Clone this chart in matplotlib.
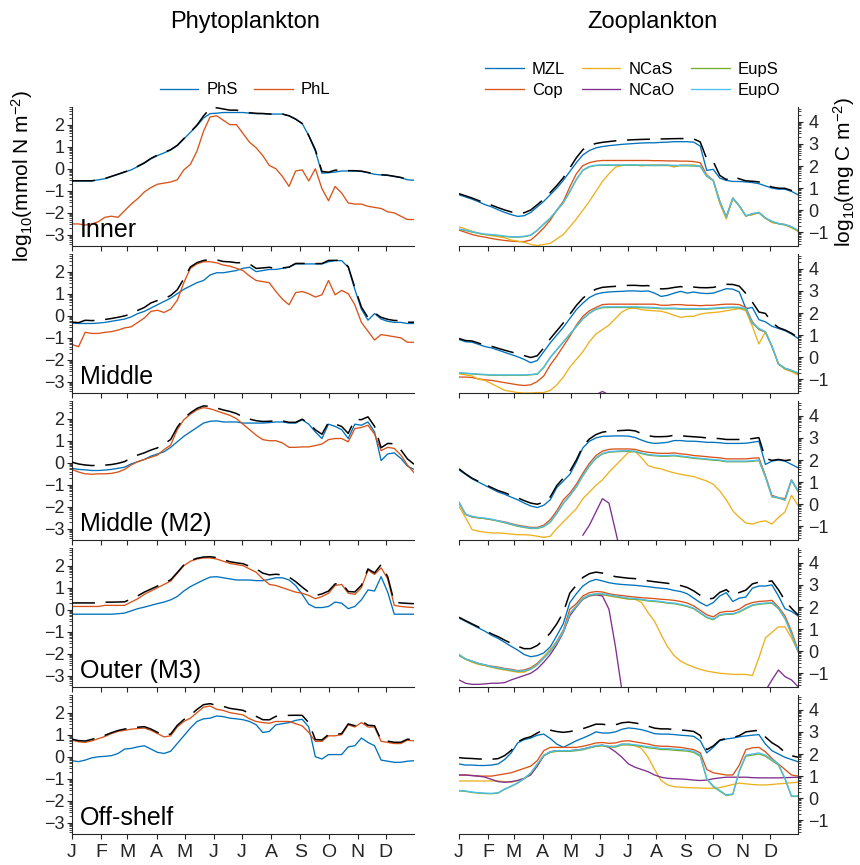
import numpy as np
import matplotlib
matplotlib.use("Agg")
import matplotlib.pyplot as plt
from matplotlib.ticker import FixedLocator

plt.rcParams['font.family'] = ['Liberation Sans', 'DejaVu Sans']
plt.rcParams['mathtext.fontset'] = 'custom'
plt.rcParams['mathtext.rm'] = 'Liberation Sans'
plt.rcParams['mathtext.it'] = 'Liberation Sans'
plt.rcParams['mathtext.default'] = 'regular'

nan = np.nan
# weekly sample days (day of year)
days = list(range(1, 366, 7))
month_days = [1, 32, 60, 91, 121, 152, 182, 213, 244, 274, 305, 335]
month_labels = ['J', 'F', 'M', 'A', 'M', 'J', 'J', 'A', 'S', 'O', 'N', 'D']
regions = ['Inner', 'Middle', 'Middle (M2)', 'Outer (M3)', 'Off-shelf']

# ---------------- Phytoplankton (log10 mmol N m-2) ----------------
phs_inner = [-0.55, -0.55, -0.55, -0.55, -0.5, -0.45, -0.35, -0.25, -0.15, -0.05,
             0.1, 0.25, 0.45, 0.6, 0.72, 0.85, 1.05, 1.35, 1.65, 1.95,
             2.3, 2.5, 2.52, 2.55, 2.55, 2.55, 2.55, 2.52, 2.5, 2.5,
             2.48, 2.48, 2.48, 2.4, 2.25, 2.05, 1.5, 0.8, -0.2, -0.18,
             -0.15, -0.1, -0.1, -0.1, -0.12, -0.18, -0.25, -0.28, -0.3, -0.35,
             -0.4, -0.5, -0.52]
phl_inner = [-2.5, -2.5, -2.55, -2.5, -2.4, -2.2, -2.15, -2.2, -1.9, -1.6,
             -1.35, -1.05, -0.85, -0.7, -0.65, -0.6, -0.5, -0.05, 0.2, 0.8,
             1.7, 2.35, 2.4, 2.2, 2.0, 2.0, 1.6, 1.2, 0.95, 0.6,
             0.15, 0.0, -0.35, -0.8, -0.1, -0.05, -0.55, 0.0, -0.9, -1.45,
             -0.8, -1.1, -1.55, -1.6, -1.6, -1.7, -1.75, -1.8, -1.95, -2.0,
             -2.15, -2.3, -2.3]
phs_middle = [-0.33, -0.35, -0.35, -0.35, -0.33, -0.3, -0.25, -0.2, -0.15, -0.05,
              0.1, 0.2, 0.35, 0.5, 0.65, 0.8, 1.0, 1.2, 1.35, 1.5,
              1.6, 1.85, 1.95, 1.95, 2.0, 2.05, 2.15, 2.2, 2.0, 2.05,
              2.1, 2.1, 2.15, 2.2, 2.35, 2.35, 2.35, 2.35, 2.35, 2.45,
              2.5, 2.5, 2.2, 1.2, 0.3, -0.2, 0.1, -0.15, -0.25, -0.3,
              -0.3, -0.35, -0.35]
phl_middle = [-1.3, -1.4, -0.75, -0.8, -0.8, -0.75, -0.72, -0.65, -0.55, -0.5,
              -0.3, -0.1, 0.2, 0.25, 0.15, 0.3, 0.7, 1.5, 2.15, 2.35,
              2.45, 2.45, 2.4, 2.3, 2.25, 2.15, 2.05, 1.8, 1.6, 1.55,
              1.5, 1.1, 0.75, 0.5, 1.05, 1.1, 1.0, 0.85, 0.95, 1.6,
              0.95, 1.15, 1.0, 0.5, -0.3, -0.7, -1.1, -0.85, -0.9, -0.95,
              -1.0, -1.2, -1.2]
phs_m2 = [-0.25, -0.3, -0.32, -0.35, -0.35, -0.33, -0.3, -0.25, -0.2, -0.05,
          0.05, 0.15, 0.3, 0.4, 0.5, 0.7, 0.95, 1.2, 1.4, 1.6,
          1.8, 1.88, 1.9, 1.85, 1.85, 1.85, 1.8, 1.8, 1.8, 1.8,
          1.82, 1.85, 1.85, 1.8, 1.8, 1.95, 1.75, 1.4, 1.1, 1.75,
          1.65, 1.5, 1.1, 1.75, 1.7, 1.85, 1.4, 0.1, 0.4, 0.45,
          0.2, -0.15, -0.3]
phl_m2 = [-0.3, -0.42, -0.5, -0.52, -0.5, -0.5, -0.48, -0.42, -0.3, -0.1,
          0.05, 0.15, 0.25, 0.35, 0.6, 0.8, 1.5, 1.95, 2.2, 2.4,
          2.5, 2.45, 2.35, 2.25, 2.15, 2.0, 1.75, 1.5, 1.25, 1.05,
          1.0, 1.0, 0.9, 0.7, 0.7, 0.72, 0.72, 0.78, 0.85, 1.05,
          1.1, 1.1, 0.95, 1.55, 1.6, 1.7, 1.3, 0.55, 0.7, 0.65,
          0.35, -0.1, -0.45]
phs_m3 = [-0.2, -0.2, -0.2, -0.2, -0.2, -0.2, -0.2, -0.18, -0.15, -0.05,
          0.05, 0.12, 0.2, 0.28, 0.35, 0.45, 0.6, 0.85, 1.05, 1.2,
          1.35, 1.48, 1.5, 1.45, 1.4, 1.35, 1.35, 1.35, 1.32, 1.32,
          1.38, 1.45, 1.45, 1.35, 1.1, 0.7, 0.25, 0.1, 0.1, 0.15,
          0.35, 0.3, 0.05, 0.15, 0.45, 0.9, 0.85, 1.5, 0.8, -0.2,
          -0.2, -0.2, -0.2]
phl_m3 = [0.15, 0.15, 0.15, 0.15, 0.15, 0.2, 0.2, 0.2, 0.2, 0.35,
          0.5, 0.7, 0.85, 1.0, 1.15, 1.3, 1.65, 2.0, 2.2, 2.3,
          2.35, 2.35, 2.3, 2.2, 2.1, 2.05, 2.0, 1.85, 1.7, 1.4,
          1.15, 1.1, 1.0, 0.9, 0.8, 0.75, 0.65, 0.5, 0.6, 0.75,
          1.1, 1.15, 0.75, 0.7, 1.0, 1.8, 1.6, 1.9, 1.4, 0.2,
          0.15, 0.12, 0.1]
phs_off = [-0.18, -0.22, -0.15, -0.05, 0.0, 0.02, 0.05, 0.15, 0.35, 0.38,
           0.45, 0.5, 0.35, 0.2, 0.15, 0.25, 0.6, 0.95, 1.3, 1.6,
           1.72, 1.75, 1.85, 1.82, 1.75, 1.72, 1.68, 1.6, 1.45, 1.1,
           1.15, 1.45, 1.5, 1.55, 1.65, 1.7, 1.35, 0.0, -0.1, 0.1,
           0.1, 0.1, 0.45, 0.5, 0.85, 0.65, 0.5, -0.15, -0.2, -0.25,
           -0.25, -0.2, -0.18]
phl_off = [0.75, 0.68, 0.65, 0.72, 0.82, 0.92, 1.05, 1.15, 1.2, 1.25,
           1.28, 1.3, 1.2, 1.05, 0.9, 0.95, 1.35, 1.6, 1.75, 2.0,
           2.25, 2.3, 2.15, 2.1, 2.0, 1.95, 1.9, 1.72, 1.6, 1.55,
           1.52, 1.6, 1.6, 1.6, 1.5, 1.4, 1.1, 0.7, 0.7, 0.95,
           0.95, 1.0, 1.45, 1.35, 1.55, 1.35, 1.35, 0.7, 0.65, 0.6,
           0.6, 0.75, 0.72]

# ---------------- Zooplankton (log10 mg C m-2) ----------------
mzl_inner = [0.7, 0.6, 0.5, 0.38, 0.25, 0.15, 0.02, -0.1, -0.2, -0.28,
             -0.25, -0.1, 0.15, 0.4, 0.7, 1.0, 1.35, 1.75, 2.15, 2.5,
             2.7, 2.82, 2.88, 2.92, 2.95, 2.98, 3.0, 3.02, 3.04, 3.05,
             3.05, 3.07, 3.08, 3.1, 3.1, 3.1, 3.08, 2.9, 1.8, 1.85,
             1.45, 1.35, 1.3, 1.3, 1.28, 1.25, 1.2, 1.1, 1.0, 0.95,
             0.95, 0.85, 0.7]
cop_inner = [-0.9, -1.0, -1.1, -1.17, -1.22, -1.28, -1.33, -1.37, -1.4, -1.42,
             -1.42, -1.35, -1.1, -0.8, -0.45, 0.0, 0.4, 1.05, 1.65, 2.02,
             2.15, 2.22, 2.25, 2.25, 2.25, 2.25, 2.25, 2.25, 2.25, 2.25,
             2.24, 2.24, 2.23, 2.23, 2.22, 2.22, 2.2, 2.15, 1.6, 1.35,
             0.4, -0.3, 0.55, 0.2, -0.25, -0.2, -0.1, -0.35, -0.55, -0.6,
             -0.65, -0.75, -0.95]
ncas_inner = [-0.75, -0.85, -0.95, -1.05, -1.1, -1.15, -1.2, -1.25, -1.35, -1.4,
              -1.45, -1.55, -1.6, -1.55, -1.5, -1.3, -1.1, -0.75, -0.4, 0.0,
              0.4, 0.85, 1.3, 1.65, 1.95, 2.02, 2.05, 2.05, 2.0, 2.05,
              2.05, 2.05, 2.05, 1.95, 2.05, 2.05, 2.05, 2.0, 1.55, 1.35,
              0.3, -0.4, 0.55, 0.2, -0.25, -0.2, -0.1, -0.35, -0.55, -0.6,
              -0.65, -0.8, -0.95]
ncao_inner = [nan] * 53
eups_inner = [-0.87, -0.92, -0.99, -1.05, -1.1, -1.12, -1.15, -1.19, -1.22, -1.22,
              -1.2, -1.14, -0.92, -0.64, -0.37, -0.02, 0.33, 0.83, 1.38, 1.8,
              1.96, 2.02, 2.03, 2.03, 2.03, 2.03, 2.03, 2.03, 2.03, 2.02,
              2.02, 2.02, 2.02, 2.01, 2.01, 2.01, 2.0, 1.98, 1.53, 1.33,
              0.38, -0.32, 0.53, 0.18, -0.27, -0.17, -0.12, -0.37, -0.52, -0.62,
              -0.67, -0.77, -0.92]
eupo_inner = [-0.85, -0.9, -0.97, -1.03, -1.08, -1.1, -1.13, -1.17, -1.2, -1.2,
              -1.18, -1.12, -0.9, -0.62, -0.35, 0.0, 0.35, 0.85, 1.4, 1.82,
              1.98, 2.04, 2.05, 2.05, 2.05, 2.05, 2.05, 2.05, 2.05, 2.04,
              2.04, 2.04, 2.04, 2.03, 2.03, 2.03, 2.02, 2.0, 1.55, 1.35,
              0.4, -0.3, 0.55, 0.2, -0.25, -0.15, -0.1, -0.35, -0.5, -0.6,
              -0.65, -0.75, -0.9]

mzl_middle = [0.8, 0.7, 0.68, 0.58, 0.48, 0.42, 0.32, 0.22, 0.12, 0.02,
              -0.1, -0.25, -0.15, 0.25, 0.65, 1.0, 1.35, 1.75, 2.15, 2.45,
              2.7, 2.85, 2.92, 2.95, 2.97, 2.98, 3.0, 3.0, 2.98, 3.0,
              2.9, 2.75, 2.8, 2.9, 2.98, 2.9, 2.95, 2.9, 2.88, 2.9,
              3.0, 3.1, 3.08, 2.95, 2.2, 2.25, 1.7, 1.6, 1.4, 1.3,
              1.2, 1.05, 0.85]
cop_middle = [-0.9, -0.9, -0.92, -0.98, -1.02, -1.05, -1.1, -1.15, -1.2, -1.25,
              -1.28, -1.25, -1.1, -0.85, -0.35, 0.05, 0.5, 0.95, 1.45, 1.85,
              2.1, 2.25, 2.38, 2.4, 2.4, 2.4, 2.4, 2.4, 2.4, 2.4,
              2.4, 2.35, 2.35, 2.38, 2.38, 2.35, 2.35, 2.33, 2.35, 2.35,
              2.38, 2.4, 2.4, 2.38, 2.25, 1.6, 1.25, 1.15, 0.5, -0.3,
              -0.5, -0.6, -0.75]
ncas_middle = [-0.75, -0.8, -0.85, -1.0, -1.05, -1.2, -1.35, -1.5, -1.55, -1.6,
               -1.62, -1.62, -1.6, -1.6, -1.5, -1.25, -0.9, -0.45, -0.1, 0.25,
               0.7, 1.05, 1.25, 1.45, 1.75, 2.05, 2.2, 2.22, 2.15, 2.12,
               2.1, 2.08, 2.0, 1.9, 1.8, 1.85, 1.85, 1.95, 2.0, 2.02,
               2.05, 2.1, 2.15, 2.2, 2.1, 1.4, 0.6, 1.15, 0.5, -0.3,
               -0.55, -0.65, -0.8]
ncao_middle = [nan, nan, nan, nan, nan, nan, nan, nan, nan, nan,
               nan, nan, nan, nan, nan, nan, nan, nan, nan, nan,
               -2.0, -1.7, -1.55, -1.7, -2.0, nan, nan, nan, nan, nan,
               nan, nan, nan, nan, nan, nan, nan, nan, nan, nan,
               nan, nan, nan, nan, nan, nan, nan, nan, nan, nan,
               nan, nan, nan]
eups_middle = [-0.72, -0.74, -0.76, -0.78, -0.8, -0.82, -0.82, -0.82, -0.82, -0.82,
               -0.82, -0.8, -0.77, -0.47, -0.02, 0.33, 0.68, 1.03, 1.38, 1.73,
               1.98, 2.16, 2.24, 2.25, 2.25, 2.25, 2.25, 2.25, 2.24, 2.23,
               2.22, 2.19, 2.19, 2.19, 2.17, 2.17, 2.17, 2.17, 2.17, 2.19,
               2.21, 2.23, 2.24, 2.23, 2.17, 1.53, 1.28, 1.13, 0.48, -0.32,
               -0.52, -0.62, -0.72]
eupo_middle = [-0.7, -0.72, -0.74, -0.76, -0.78, -0.8, -0.8, -0.8, -0.8, -0.8,
               -0.8, -0.78, -0.75, -0.45, 0.0, 0.35, 0.7, 1.05, 1.4, 1.75,
               2.0, 2.18, 2.27, 2.28, 2.28, 2.28, 2.28, 2.28, 2.27, 2.26,
               2.25, 2.22, 2.22, 2.22, 2.2, 2.2, 2.2, 2.2, 2.2, 2.22,
               2.24, 2.26, 2.27, 2.26, 2.2, 1.55, 1.3, 1.15, 0.5, -0.3,
               -0.5, -0.6, -0.7]

mzl_m2 = [1.55, 1.35, 1.15, 1.0, 0.85, 0.7, 0.55, 0.45, 0.32, 0.2,
          0.05, -0.08, -0.15, -0.05, 0.2, 0.75, 1.05, 1.35, 1.9, 2.55,
          2.85, 3.0, 3.07, 3.08, 3.09, 3.09, 3.08, 3.02, 2.9, 2.8,
          2.75, 2.77, 2.8, 2.88, 2.88, 2.85, 2.85, 2.83, 2.8, 2.8,
          2.78, 2.75, 2.75, 2.75, 2.76, 2.8, 2.85, 1.8, 1.95, 2.0,
          1.95, 1.8, 1.65]
cop_m2 = [0.05, -0.45, -0.58, -0.62, -0.65, -0.7, -0.75, -0.8, -0.88, -0.95,
          -1.0, -1.05, -1.05, -0.95, -0.7, -0.3, 0.2, 0.5, 0.9, 1.4,
          1.85, 2.2, 2.4, 2.48, 2.5, 2.5, 2.5, 2.48, 2.4, 2.35,
          2.32, 2.3, 2.3, 2.32, 2.28, 2.25, 2.2, 2.18, 2.15, 2.12,
          2.1, 2.05, 2.05, 2.05, 2.05, 2.08, 2.1, 1.3, 0.4, 0.3,
          0.25, 1.1, 0.6]
ncas_m2 = [-0.1, -0.6, -1.15, -1.22, -1.27, -1.3, -1.3, -1.32, -1.35, -1.38,
           -1.38, -1.4, -1.45, -1.5, -1.45, -1.1, -0.8, -0.5, -0.2, 0.25,
           0.55, 0.85, 1.1, 1.45, 1.75, 2.05, 2.35, 2.4, 2.1, 1.75,
           1.65, 1.6, 1.5, 1.42, 1.35, 1.3, 1.25, 1.15, 1.05, 0.9,
           0.6, 0.2, -0.3, -0.6, -0.85, -0.9, -0.8, -0.75, -0.9, -0.6,
           -0.35, 0.4, -0.05]
ncao_m2 = [nan, nan, nan, nan, nan, nan, nan, nan, nan, nan,
           nan, nan, nan, nan, nan, nan, nan, nan, nan, -1.4,
           -0.95, -0.35, 0.25, 0.05, -1.2, -2.5, nan, nan, nan, nan,
           nan, nan, nan, nan, nan, nan, nan, nan, nan, nan,
           nan, nan, nan, nan, nan, nan, nan, nan, nan, nan,
           nan, nan, nan]
eups_m2 = [0.08, -0.47, -0.57, -0.62, -0.65, -0.7, -0.77, -0.84, -0.92, -1.0,
           -1.05, -1.1, -1.1, -1.02, -0.82, -0.42, 0.03, 0.38, 0.78, 1.28,
           1.72, 2.07, 2.27, 2.35, 2.37, 2.39, 2.39, 2.37, 2.29, 2.22,
           2.19, 2.17, 2.17, 2.19, 2.15, 2.12, 2.07, 2.05, 2.02, 1.99,
           1.97, 1.92, 1.92, 1.92, 1.92, 1.94, 1.97, 1.23, 0.33, 0.28,
           0.18, 1.08, 0.58]
eupo_m2 = [0.1, -0.45, -0.55, -0.6, -0.63, -0.68, -0.75, -0.82, -0.9, -0.98,
           -1.03, -1.08, -1.08, -1.0, -0.8, -0.4, 0.05, 0.4, 0.8, 1.3,
           1.75, 2.1, 2.3, 2.38, 2.4, 2.42, 2.42, 2.4, 2.32, 2.25,
           2.22, 2.2, 2.2, 2.22, 2.18, 2.15, 2.1, 2.08, 2.05, 2.02,
           2.0, 1.95, 1.95, 1.95, 1.95, 1.97, 2.0, 1.25, 0.35, 0.3,
           0.2, 1.1, 0.6]

mzl_m3 = [1.5, 1.35, 1.2, 1.05, 0.9, 0.72, 0.58, 0.4, 0.22, 0.05,
          -0.15, -0.25, -0.2, -0.08, 0.2, 0.7, 1.25, 2.2, 2.6, 2.95,
          3.15, 3.25, 3.18, 3.1, 3.05, 3.02, 3.0, 2.98, 2.95, 2.92,
          2.88, 2.85, 2.82, 2.75, 2.7, 2.6, 2.4, 2.2, 2.05, 2.2,
          2.5, 2.65, 2.25, 2.4, 2.45, 2.85, 2.95, 2.95, 3.0, 2.5,
          1.92, 1.8, 1.6]
cop_m3 = [-0.2, -0.35, -0.45, -0.55, -0.62, -0.68, -0.72, -0.78, -0.82, -0.88,
          -0.85, -0.75, -0.55, -0.25, 0.05, 0.45, 0.95, 1.9, 2.15, 2.5,
          2.65, 2.7, 2.68, 2.6, 2.55, 2.52, 2.48, 2.45, 2.42, 2.4,
          2.38, 2.35, 2.33, 2.3, 2.25, 2.18, 2.05, 1.85, 1.65, 1.55,
          1.75, 1.8, 1.8, 1.9, 2.1, 2.2, 2.25, 2.27, 2.3, 2.0,
          1.6, 0.9, 0.05]
ncas_m3 = [-0.15, -0.35, -0.5, -0.6, -0.65, -0.72, -0.8, -0.85, -0.9, -0.95,
           -0.95, -0.8, -0.6, -0.25, 0.1, 0.4, 0.9, 1.7, 2.05, 2.4,
           2.55, 2.58, 2.55, 2.5, 2.45, 2.4, 2.35, 2.35, 2.2, 1.75,
           1.35, 0.75, 0.2, -0.2, -0.45, -0.6, -0.72, -0.82, -0.9, -0.95,
           -1.0, -1.02, -1.05, -1.05, -1.05, -1.1, -0.3, 0.6, 0.85, 1.1,
           1.1, 0.6, 0.0]
ncao_m3 = [-1.3, -1.45, -1.5, -1.5, -1.48, -1.45, -1.45, -1.42, -1.3, -1.2,
           -1.1, -1.0, -0.8, -0.5, -0.15, 0.3, 0.85, 1.6, 2.0, 2.35,
           2.5, 2.55, 2.5, 1.9, 0.2, -1.8, nan, nan, nan, nan,
           nan, nan, nan, nan, nan, nan, nan, nan, nan, nan,
           nan, nan, nan, nan, nan, nan, nan, -1.8, -1.3, -0.85,
           -1.15, -1.3, -1.6]
eups_m3 = [-0.17, -0.37, -0.47, -0.57, -0.64, -0.72, -0.77, -0.82, -0.87, -0.92,
           -0.9, -0.82, -0.62, -0.32, -0.02, 0.38, 0.88, 1.68, 2.03, 2.37,
           2.52, 2.57, 2.57, 2.52, 2.47, 2.42, 2.37, 2.35, 2.32, 2.27,
           2.25, 2.22, 2.17, 2.15, 2.09, 2.02, 1.92, 1.72, 1.52, 1.42,
           1.62, 1.67, 1.67, 1.77, 1.92, 2.07, 2.12, 2.15, 2.17, 1.92,
           1.47, 0.77, -0.02]
eupo_m3 = [-0.15, -0.35, -0.45, -0.55, -0.62, -0.7, -0.75, -0.8, -0.85, -0.9,
           -0.88, -0.8, -0.6, -0.3, 0.0, 0.4, 0.9, 1.7, 2.05, 2.4,
           2.55, 2.6, 2.6, 2.55, 2.5, 2.45, 2.4, 2.38, 2.35, 2.3,
           2.28, 2.25, 2.2, 2.18, 2.12, 2.05, 1.95, 1.75, 1.55, 1.45,
           1.65, 1.7, 1.7, 1.8, 1.95, 2.1, 2.15, 2.18, 2.2, 1.95,
           1.5, 0.8, 0.0]

mzl_off = [1.55, 1.5, 1.5, 1.48, 1.48, 1.5, 1.55, 1.75, 2.05, 2.5,
           2.65, 2.72, 2.85, 2.9, 2.7, 2.45, 2.3, 2.45, 2.6, 2.72,
           2.85, 3.0, 2.95, 2.95, 3.0, 3.12, 3.18, 3.15, 3.1, 3.02,
           2.92, 2.9, 2.9, 2.88, 2.85, 2.83, 2.8, 2.6, 2.05, 2.3,
           2.6, 2.68, 2.72, 2.78, 2.82, 2.85, 2.88, 2.45, 2.15, 2.0,
           1.85, 1.75, 1.65]
cop_off = [1.05, 1.05, 1.03, 1.0, 1.0, 1.0, 1.05, 1.1, 1.15, 1.25,
           1.35, 1.45, 1.7, 2.15, 2.3, 2.3, 2.3, 2.3, 2.3, 2.35,
           2.42, 2.5, 2.52, 2.48, 2.5, 2.58, 2.6, 2.55, 2.5, 2.45,
           2.38, 2.35, 2.35, 2.32, 2.3, 2.25, 2.2, 2.05, 1.3, 1.15,
           1.1, 1.05, 1.05, 1.5, 2.2, 2.28, 2.3, 2.1, 1.8, 1.55,
           1.3, 1.05, 1.0]
ncas_off = [0.78, 0.78, 0.78, 0.78, 0.78, 0.78, 0.78, 0.75, 0.72, 0.8,
            0.9, 1.1, 1.5, 1.92, 2.1, 2.15, 2.15, 2.15, 2.18, 2.22,
            2.3, 2.38, 2.4, 2.35, 2.35, 2.45, 2.45, 2.38, 2.25, 1.85,
            1.3, 0.8, 0.6, 0.52, 0.5, 0.48, 0.47, 0.46, 0.45, 0.45,
            0.48, 0.55, 0.62, 0.68, 0.65, 0.62, 0.6, 0.6, 0.62, 0.65,
            0.67, 0.7, 0.72]
ncao_off = [1.05, 1.05, 1.02, 1.0, 0.95, 0.85, 0.75, 0.72, 0.75, 0.8,
            0.9, 1.05, 1.45, 1.92, 2.1, 2.15, 2.15, 2.15, 2.18, 2.22,
            2.3, 2.35, 2.4, 2.3, 2.1, 1.85, 1.55, 1.4, 1.3, 1.2,
            1.05, 0.95, 0.9, 0.88, 0.87, 0.85, 0.82, 0.8, 0.82, 0.88,
            0.92, 0.95, 0.95, 0.95, 0.95, 0.93, 0.92, 0.92, 0.92, 0.92,
            0.93, 0.94, 0.95]
eups_off = [0.33, 0.31, 0.26, 0.23, 0.21, 0.2, 0.23, 0.4, 0.53, 0.68,
            0.88, 1.12, 1.52, 1.92, 2.07, 2.12, 2.12, 2.12, 2.15, 2.19,
            2.27, 2.35, 2.37, 2.32, 2.31, 2.41, 2.41, 2.38, 2.34, 2.28,
            2.25, 2.2, 2.2, 2.17, 2.15, 2.13, 2.07, 1.9, 0.87, 0.52,
            0.32, 0.12, 0.17, 1.22, 1.9, 1.95, 2.0, 1.9, 1.7, 1.5,
            0.87, 0.08, 0.08]
eupo_off = [0.35, 0.33, 0.28, 0.25, 0.23, 0.22, 0.25, 0.42, 0.55, 0.7,
            0.9, 1.15, 1.55, 1.95, 2.1, 2.15, 2.15, 2.15, 2.18, 2.22,
            2.3, 2.38, 2.4, 2.35, 2.35, 2.45, 2.45, 2.42, 2.38, 2.33,
            2.3, 2.25, 2.25, 2.22, 2.2, 2.18, 2.12, 1.95, 0.9, 0.55,
            0.35, 0.15, 0.2, 1.25, 1.95, 2.0, 2.05, 1.95, 1.75, 1.55,
            0.9, 0.1, 0.1]

phyto = [(phs_inner, phl_inner), (phs_middle, phl_middle), (phs_m2, phl_m2),
         (phs_m3, phl_m3), (phs_off, phl_off)]
zoo = [(mzl_inner, cop_inner, ncas_inner, ncao_inner, eups_inner, eupo_inner),
       (mzl_middle, cop_middle, ncas_middle, ncao_middle, eups_middle, eupo_middle),
       (mzl_m2, cop_m2, ncas_m2, ncao_m2, eups_m2, eupo_m2),
       (mzl_m3, cop_m3, ncas_m3, ncao_m3, eups_m3, eupo_m3),
       (mzl_off, cop_off, ncas_off, ncao_off, eups_off, eupo_off)]

phyto_names = ['PhS', 'PhL']
zoo_names = ['MZL', 'Cop', 'NCaS', 'NCaO', 'EupS', 'EupO']
phyto_colors = ['#0072BD', '#D95319']
zoo_colors = ['#0072BD', '#D95319', '#EDB120', '#7E2F8E', '#77AC30', '#4DBEEE']

# ---------------- figure ----------------
W, Hpx = 860, 865
fig = plt.figure(figsize=(W / 100, Hpx / 100), dpi=100)
tops = [107, 254, 401, 548, 695]
ph = 139
axc = '#262626'
minor_pos = [n + np.log10(k) for n in range(-5, 6) for k in range(2, 10)]
dash = (0, (15, 7))
LW = 0.95

def total(series):
    arr = np.array(series, dtype=float)
    return np.log10(np.nansum(10 ** arr, axis=0))

def style(ax, side, last):
    ax.set_xlim(1, 365)
    for s in ['top', 'left', 'right']:
        ax.spines[s].set_visible(False)
    ax.spines[side].set_visible(True)
    for s in ax.spines.values():
        s.set_color(axc)
        s.set_linewidth(0.8)
    ax.set_xticks(month_days)
    ax.set_xticklabels(month_labels if last else [])
    ax.yaxis.set_minor_locator(FixedLocator(minor_pos))
    ax.tick_params(axis='both', which='major', direction='out', length=3.5,
                   width=0.8, colors=axc)
    ax.tick_params(axis='y', which='minor', direction='out', length=2,
                   width=0.6, colors=axc)
    ax.tick_params(axis='x', labelsize=14, pad=4, labelbottom=last)
    ax.tick_params(axis='y', labelsize=13)
    if side == 'right':
        ax.yaxis.tick_right()
        ax.tick_params(axis='y', which='both', left=False, right=True, pad=4)
    else:
        ax.tick_params(axis='y', pad=2)

phy_handles = []
zoo_handles = []
for r in range(5):
    bottom = 1 - (tops[r] + ph) / Hpx
    axl = fig.add_axes([72 / W, bottom, 342 / W, ph / Hpx])
    axr = fig.add_axes([459 / W, bottom, 339 / W, ph / Hpx])
    last = (r == 4)

    # phytoplankton
    for vals, c, nm in zip(phyto[r], phyto_colors, phyto_names):
        ln, = axl.plot(days, vals, color=c, lw=LW, label=nm)
        if r == 0:
            phy_handles.append(ln)
    axl.plot(days, total(phyto[r]), color='black', lw=1.1, ls=dash, zorder=5)
    axl.set_ylim(-3.5, 2.8)
    axl.set_yticks([-3, -2, -1, 0, 1, 2])
    style(axl, 'left', last)
    axl.text(0.022, 0.065, regions[r], transform=axl.transAxes, ha='left',
             va='baseline', fontsize=18, color='black')

    # zooplankton
    for vals, c, nm in zip(zoo[r], zoo_colors, zoo_names):
        ln, = axr.plot(days, vals, color=c, lw=LW, label=nm)
        if r == 0:
            zoo_handles.append(ln)
    axr.plot(days, total(zoo[r]), color='black', lw=1.1, ls=dash, zorder=5)
    axr.set_ylim(-1.62, 4.67)
    axr.set_yticks([-1, 0, 1, 2, 3, 4])
    style(axr, 'right', last)

# titles and axis labels
fig.text(245 / W, 1 - 22 / Hpx, 'Phytoplankton', ha='center', va='center', fontsize=17)
fig.text(652 / W, 1 - 22 / Hpx, 'Zooplankton', ha='center', va='center', fontsize=17)
fig.text(22 / W, 1 - 176 / Hpx, r'log$_{10}$(mmol N m$^{-2}$)', rotation=90,
         ha='center', va='center', fontsize=15)
fig.text(844 / W, 1 - 172 / Hpx, r'log$_{10}$(mg C m$^{-2}$)', rotation=90,
         ha='center', va='center', fontsize=15)

fig.legend(handles=phy_handles, labels=phyto_names, loc='center',
           bbox_to_anchor=(245 / W, 1 - 90 / Hpx), ncol=2, frameon=False,
           fontsize=12, handlelength=2.3, handletextpad=0.5, columnspacing=1.0)
fig.legend(handles=zoo_handles, labels=zoo_names, loc='center',
           bbox_to_anchor=(633 / W, 1 - 80 / Hpx), ncol=3, frameon=False,
           fontsize=12, handlelength=2.3, handletextpad=0.5, columnspacing=1.0,
           labelspacing=0.4)

fig.savefig('out.png', dpi=100)
